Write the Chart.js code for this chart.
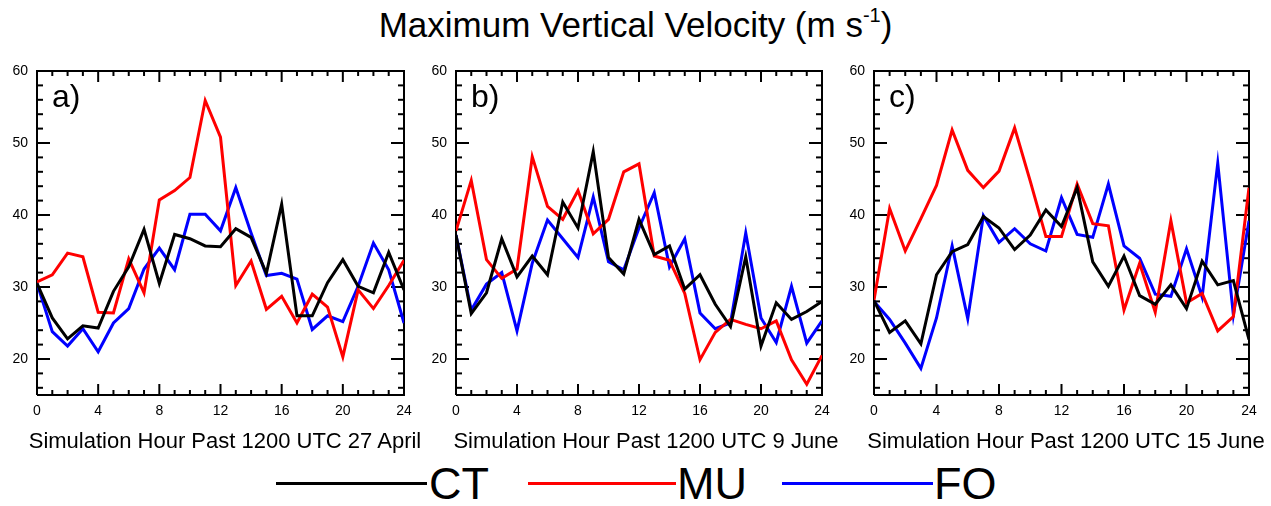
<!DOCTYPE html>
<html><head><meta charset="utf-8">
<script src="https://cdn.jsdelivr.net/npm/chart.js@4.4.1/dist/chart.umd.min.js"></script>
<style>
html,body{margin:0;padding:0;background:#fff;width:1271px;height:506px;overflow:hidden;font-family:"Liberation Sans",Arial,sans-serif;color:#000;}
.abs{position:absolute;white-space:nowrap;}
.xt{position:absolute;top:430px;width:420px;text-align:center;font-size:22px;line-height:22px;white-space:nowrap;}
canvas{position:absolute;}
</style></head><body>
<div class="abs" style="left:0;top:7px;width:1271px;text-align:center;font-size:35px;line-height:35px;">Maximum Vertical Velocity (m s<span style="font-size:20px;position:relative;top:-15px">-1</span>)</div>

<canvas id="pa" width="419" height="399" style="left:0px;top:56px;"></canvas>
<canvas id="pb" width="418" height="399" style="left:419px;top:56px;"></canvas>
<canvas id="pc" width="434" height="399" style="left:837px;top:56px;"></canvas>

<div class="xt" id="ta" style="left:15px;"></div>
<div class="xt" id="tb" style="left:436px;"></div>
<div class="xt" id="tc" style="left:856px;"></div>

<div class="abs" style="left:276px;top:482px;width:151px;height:3px;background:#000;"></div>
<div class="abs" style="left:429px;top:461px;font-size:45px;line-height:45px;">CT</div>
<div class="abs" style="left:528px;top:482px;width:148px;height:3px;background:#ff0000;"></div>
<div class="abs" style="left:677px;top:461px;font-size:45px;line-height:45px;">MU</div>
<div class="abs" style="left:782px;top:482px;width:151px;height:3px;background:#0000ff;"></div>
<div class="abs" style="left:934px;top:461px;font-size:45px;line-height:45px;">FO</div>

<script>
const hours = [0,1,2,3,4,5,6,7,8,9,10,11,12,13,14,15,16,17,18,19,20,21,22,23,24];
const xTickLabels = [0,4,8,12,16,20,24];
const xMinorTicks = [1,2,3,5,6,7,9,10,11,13,14,15,17,18,19,21,22,23];
const yTickLabels = [20,30,40,50,60];
const yMinorTicks = [16,18,22,24,26,28,32,34,36,38,42,44,46,48,52,54,56,58];
const seriesNames = ['CT','MU','FO'];
const seriesColors = ['#000000','#ff0000','#0000ff'];
const panelLetters = ['a)','b)','c)'];
const panelTitles = ['Simulation Hour Past 1200 UTC 27 April','Simulation Hour Past 1200 UTC 9 June','Simulation Hour Past 1200 UTC 15 June'];

const aprCT = [30.5,25.7,22.8,24.6,24.3,29.4,32.8,38.0,30.5,37.3,36.7,35.7,35.6,38.1,36.9,31.9,41.5,26.0,26.0,30.6,33.8,30.1,29.2,34.8,29.6];
const aprMU = [30.7,31.7,34.7,34.2,26.5,26.4,33.9,29.2,42.1,43.4,45.2,55.9,50.8,30.2,33.6,26.9,28.7,25.0,29.0,27.2,20.3,29.6,27.0,30.2,33.7];
const aprFO = [30.5,23.8,21.8,24.2,21.0,25.0,27.0,32.5,35.4,32.4,40.1,40.1,37.8,43.8,37.5,31.6,31.9,31.1,24.1,26.0,25.2,30.1,36.1,32.4,25.0];

const jun9CT = [37.2,26.3,29.2,36.7,31.4,34.3,31.7,41.8,38.2,48.8,34.1,31.8,39.4,34.5,35.7,29.7,31.7,27.6,24.5,34.2,21.8,27.8,25.5,26.6,28.0];
const jun9MU = [37.8,44.8,33.8,31.2,32.5,48.1,41.2,39.4,43.4,37.4,39.4,46.0,47.1,34.3,33.7,29.1,19.9,23.7,25.5,24.8,24.2,25.3,19.9,16.5,20.5];
const jun9FO = [37.2,26.8,30.4,32.0,23.9,33.3,39.3,36.7,34.1,42.5,33.5,32.4,38.2,43.1,32.8,36.7,26.4,24.2,25.0,37.5,25.7,22.3,30.1,22.2,25.3];

const jun15CT = [28.1,23.7,25.3,22.1,31.7,34.9,35.9,39.8,38.2,35.2,37.2,40.7,38.4,43.8,33.5,30.1,34.3,28.8,27.6,30.3,27.0,33.6,30.3,30.9,22.7];
const jun15MU = [28.2,40.9,35.0,39.5,44.1,51.8,46.2,43.8,46.1,52.1,44.7,37.0,37.0,44.3,38.8,38.5,26.8,33.3,26.5,39.2,27.8,29.1,23.9,25.9,43.8];
const jun15FO = [28.0,25.5,22.2,18.7,25.7,35.7,25.6,39.9,36.2,38.1,36.0,35.0,42.4,37.3,36.9,44.3,35.7,34.0,29.0,28.7,35.3,28.6,47.2,26.1,39.2];

const xMin = 0, xMax = 24, yMin = 15, yMax = 60;

['ta','tb','tc'].forEach((id, i) => { document.getElementById(id).textContent = panelTitles[i]; });

// tick-mark datasets: short line markers centred on the frame, clipped to the plot area
function tickSet(points, radius, rotation) {
  return {
    type: 'scatter', data: points, showLine: false, clip: 0,
    pointStyle: 'line', pointRadius: radius, pointHoverRadius: radius, pointRotation: rotation,
    pointBorderColor: '#000000', pointBorderWidth: 2, pointBackgroundColor: '#000000'
  };
}

const letterPlugin = {
  id: 'letter',
  afterDraw(chart) {
    const ctx = chart.ctx, a = chart.chartArea;
    ctx.save();
    ctx.fillStyle = '#000000';
    ctx.font = '32px "Liberation Sans", Arial, sans-serif';
    ctx.textBaseline = 'alphabetic';
    ctx.textAlign = 'left';
    ctx.fillText(chart.config.options.panelLetter, Math.round(a.left) + 15, Math.round(a.top) + 36);
    ctx.restore();
  }
};

function makePanel(id, idx, ct, mu, fo, rightPad) {
  const series = [ct, mu, fo];
  const lines = series.map((s, i) => ({
    type: 'line',
    label: seriesNames[i],
    data: hours.map((h, k) => ({ x: h, y: s[k] })),
    borderColor: seriesColors[i],
    backgroundColor: seriesColors[i],
    borderWidth: 3,
    pointRadius: 0,
    tension: 0,
    fill: false
  }));
  const frame = {
    type: 'line', clip: false,
    data: [{ x: xMin, y: yMin }, { x: xMax, y: yMin }, { x: xMax, y: yMax }, { x: xMin, y: yMax }, { x: xMin, y: yMin }],
    borderColor: '#000000', borderWidth: 2, pointRadius: 0, tension: 0, fill: false
  };
  const yMajor = tickSet(yTickLabels.flatMap(v => [{ x: xMin, y: v }, { x: xMax, y: v }]), 13, 0);
  const yMinor = tickSet(yMinorTicks.flatMap(v => [{ x: xMin, y: v }, { x: xMax, y: v }]), 6, 0);
  const xMajor = tickSet(xTickLabels.flatMap(v => [{ x: v, y: yMin }, { x: v, y: yMax }]), 11, 90);
  const xMinor = tickSet(xMinorTicks.flatMap(v => [{ x: v, y: yMin }, { x: v, y: yMax }]), 5, 90);

  new Chart(document.getElementById(id), {
    type: 'line',
    data: { datasets: [...lines, frame, yMajor, yMinor, xMajor, xMinor] },
    options: {
      panelLetter: panelLetters[idx],
      responsive: false,
      animation: false,
      devicePixelRatio: 1,
      events: [],
      layout: { padding: { left: 0, right: rightPad, top: 10, bottom: 0 } },
      plugins: { legend: { display: false }, tooltip: { enabled: false } },
      scales: {
        x: {
          type: 'linear', min: xMin, max: xMax,
          grid: { display: false, drawTicks: false },
          border: { display: false },
          afterBuildTicks: s => { s.ticks = xTickLabels.map(v => ({ value: v })); },
          afterFit: s => { s.height = 60; s.paddingLeft = 0; s.paddingRight = 0; },
          ticks: { color: '#000', font: { size: 14, family: '"Liberation Sans", Arial, sans-serif' }, padding: 8, maxRotation: 0, autoSkip: false }
        },
        y: {
          type: 'linear', min: yMin, max: yMax,
          grid: { display: false, drawTicks: false },
          border: { display: false },
          afterBuildTicks: s => { s.ticks = yTickLabels.map(v => ({ value: v })); },
          afterFit: s => { s.width = 37; s.paddingTop = 0; s.paddingBottom = 0; },
          ticks: { color: '#000', font: { size: 14, family: '"Liberation Sans", Arial, sans-serif' }, padding: 9 }
        }
      }
    },
    plugins: [letterPlugin]
  });
}

makePanel('pa', 0, aprCT, aprMU, aprFO, 8);
makePanel('pb', 1, jun9CT, jun9MU, jun9FO, 7);
makePanel('pc', 2, jun15CT, jun15MU, jun15FO, 22);
</script>
</body></html>
